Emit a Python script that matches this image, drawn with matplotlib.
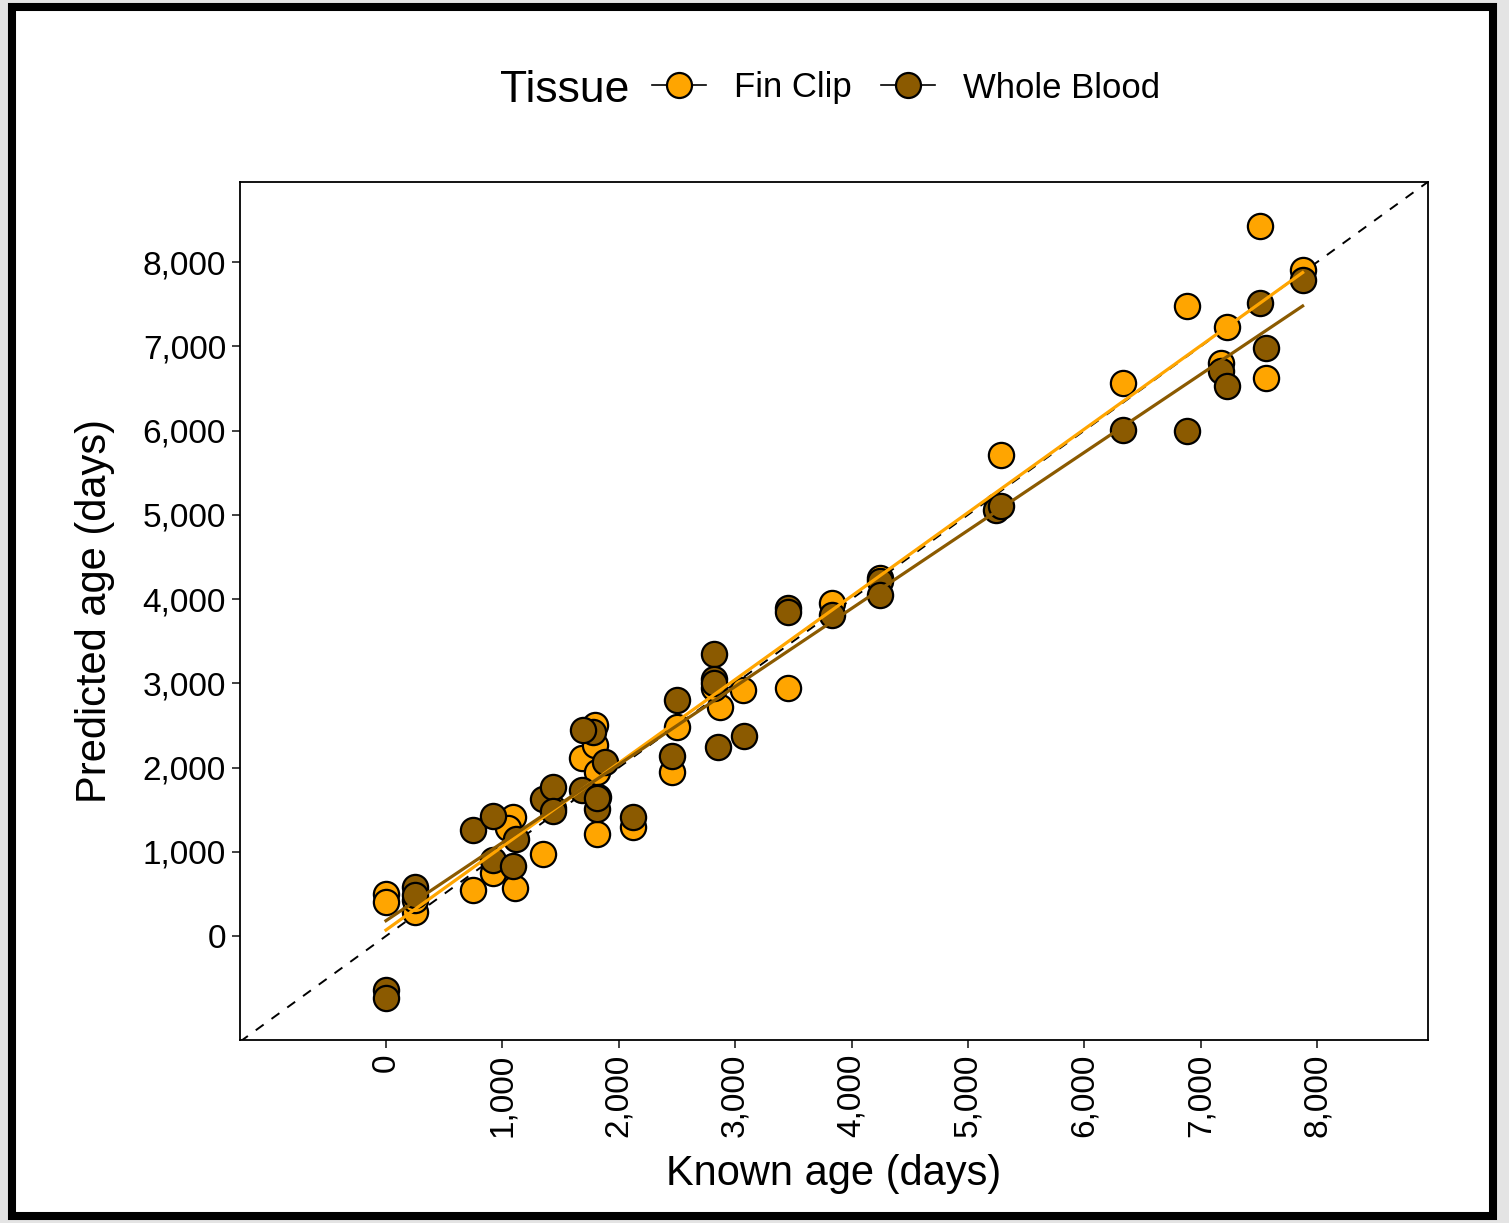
# imports
import numpy as np
import matplotlib
matplotlib.use('Agg')
import matplotlib.pyplot as plt
from matplotlib.lines import Line2D
from matplotlib.patches import Rectangle
from matplotlib.ticker import FuncFormatter

plt.rcParams['font.family'] = ['Liberation Sans', 'DejaVu Sans']

# known vs predicted age, fin clip samples
fin_known = [0, 0, 249, 249, 750, 922, 1108, 1088, 1051, 1351, 1437, 1810, 2119,
             1681, 1795, 1810, 1795, 2454, 2497, 2869, 2818, 3070, 3456, 3829,
             4244, 5250, 5280, 6334, 6884, 7171, 7228, 7509, 7560, 7875]
fin_pred = [500, 400, 290, 430, 546, 744, 573, 1409, 1278, 970, 1520, 1211, 1298,
            2109, 2267, 1950, 2504, 1950, 2484, 2722, 2940, 2920, 2940, 3949,
            4246, 5100, 5709, 6560, 7478, 6797, 7225, 8427, 6619, 7905]

# known vs predicted age, whole blood samples
blood_known = [0, 0, 249, 249, 750, 916, 922, 1094, 1117, 1346, 1437, 1437, 1681,
               1781, 1695, 1881, 1824, 1810, 1810, 2119, 2454, 2497, 2855, 3075,
               2818, 2818, 2818, 3456, 3456, 3829, 4244, 4244, 5240, 5280, 6334,
               6884, 7171, 7228, 7509, 7560, 7875]
blood_pred = [-641, -736, 585, 487, 1258, 1424, 902, 831, 1151, 1623, 1772, 1480, 1733,
              2425, 2445, 2069, 1653, 1504, 1634, 1409, 2137, 2801, 2247, 2374,
              3347, 3047, 3000, 3890, 3850, 3810, 4214, 4047, 5060, 5110, 6006,
              5998, 6710, 6528, 7517, 6975, 7786]

# fitted lines (intercept, slope)
fin_fit = [71, 0.991]
blood_fit = [182, 0.9265]

ticks = [0, 1000, 2000, 3000, 4000, 5000, 6000, 7000, 8000]
lims = [-1254, 8952]

orange = '#FFA500'
brown = '#8B5A00'

fig = plt.figure(figsize=(15.09, 12.23), dpi=100)
fig.patch.set_facecolor('#e4e4e4')
# white panel with thick black frame
fig.patches.append(Rectangle((12 / 1509, 7 / 1223), 1481 / 1509, 1209 / 1223,
                             transform=fig.transFigure, facecolor='white',
                             edgecolor='black', linewidth=5.8, zorder=-1))

ax = fig.add_axes([240 / 1509, 1 - 1040 / 1223, 1188 / 1509, 858 / 1223])

# identity line
ax.plot(lims, lims, '--', color='black', linewidth=1.4, dashes=(5, 5), zorder=1)

ax.scatter(fin_known, fin_pred, s=330, color=orange, edgecolor='black', linewidth=1.6, zorder=2)
ax.scatter(blood_known, blood_pred, s=330, color=brown, edgecolor='black', linewidth=1.6, zorder=2)

# regression lines over known-age range
xf = np.array([min(fin_known), max(fin_known)])
ax.plot(xf, fin_fit[0] + fin_fit[1] * xf, color=orange, linewidth=2.3, zorder=3)
xb = np.array([min(blood_known), max(blood_known)])
ax.plot(xb, blood_fit[0] + blood_fit[1] * xb, color=brown, linewidth=2.3, zorder=3)

ax.set_xlim(lims)
ax.set_ylim(-1234, 8950)
ax.set_xticks(ticks)
ax.set_yticks(ticks)
fmt = FuncFormatter(lambda v, p: f'{int(v):,}')
ax.xaxis.set_major_formatter(fmt)
ax.yaxis.set_major_formatter(fmt)
ax.tick_params(axis='both', length=6, width=1.3, color='#333333', labelsize=24, pad=4)
plt.setp(ax.get_xticklabels(), rotation=90)
for s in ax.spines.values():
    s.set_linewidth(1.3)

ax.set_xlabel('Known age (days)', fontsize=30)
ax.set_ylabel('Predicted age (days)', fontsize=30)
ax.xaxis.set_label_coords(0.5, -0.133)
ax.yaxis.set_label_coords(-0.105, 0.5)

# legend across the top with title on the left
fig.text(565 / 1509, 1 - 90 / 1223, 'Tissue', fontsize=32, ha='center', va='center')
handles = [Line2D([0], [0], color='black', linewidth=1.2, marker='o', markersize=18,
                  markerfacecolor=orange, markeredgecolor='black', markeredgewidth=1.6),
           Line2D([0], [0], color='black', linewidth=1.2, marker='o', markersize=18,
                  markerfacecolor=brown, markeredgecolor='black', markeredgewidth=1.6)]
fig.legend(handles, ['Fin Clip', 'Whole Blood'], loc='center', ncol=2,
           bbox_to_anchor=(906 / 1509, 1 - 88 / 1223), frameon=False, fontsize=25,
           handlelength=1.55, handletextpad=0.8, columnspacing=0.85, borderpad=0)

plt.savefig('out.png', dpi=100)
